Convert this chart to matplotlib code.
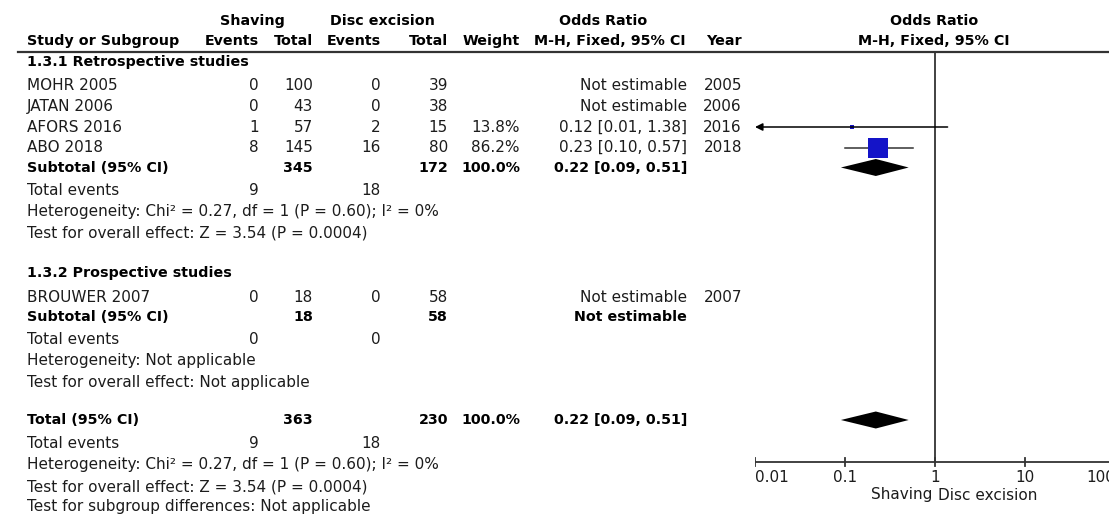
import numpy as np
import matplotlib.pyplot as plt
from matplotlib.patches import Polygon

# --- data ---
retro_names = ['MOHR 2005', 'JATAN 2006', 'AFORS 2016', 'ABO 2018']
retro_shav_ev = [0, 0, 1, 8]
retro_shav_n = [100, 43, 57, 145]
retro_disc_ev = [0, 0, 2, 16]
retro_disc_n = [39, 38, 15, 80]
retro_weight = [np.nan, np.nan, 13.8, 86.2]
retro_or = [np.nan, np.nan, 0.12, 0.23]
retro_lo = [np.nan, np.nan, 0.01, 0.10]
retro_hi = [np.nan, np.nan, 1.38, 0.57]
retro_year = [2005, 2006, 2016, 2018]

pro_names = ['BROUWER 2007']
pro_shav_ev = [0]
pro_shav_n = [18]
pro_disc_ev = [0]
pro_disc_n = [58]
pro_weight = [np.nan]
pro_or = [np.nan]
pro_lo = [np.nan]
pro_hi = [np.nan]
pro_year = [2007]

# subtotal / total: [shav_n, disc_n, shav_ev, disc_ev, weight, or, lo, hi]
retro_sub = [345, 172, 9, 18, 100.0, 0.22, 0.09, 0.51]
pro_sub = [18, 58, 0, 0, np.nan, np.nan, np.nan, np.nan]
overall = [363, 230, 9, 18, 100.0, 0.22, 0.09, 0.51]

retro_het = 'Heterogeneity: Chi² = 0.27, df = 1 (P = 0.60); I² = 0%'
retro_eff = 'Test for overall effect: Z = 3.54 (P = 0.0004)'
pro_het = 'Heterogeneity: Not applicable'
pro_eff = 'Test for overall effect: Not applicable'
tot_het = 'Heterogeneity: Chi² = 0.27, df = 1 (P = 0.60); I² = 0%'
tot_eff = 'Test for overall effect: Z = 3.54 (P = 0.0004)'
sub_diff = 'Test for subgroup differences: Not applicable'

axis_ticks = [0.01, 0.1, 1, 10, 100]
axis_labels = ['0.01', '0.1', '1', '10', '100']

# --- layout (pixels) ---
W, H = 1109, 523
FS = 11.0      # regular text
FSB = 10.3     # bold text
TXT = '#1c1c1c'
col_name = 27
col_sev, col_sn, col_dev, col_dn = 259, 313, 381, 448
col_w, col_or, col_yr = 520, 687, 742

fig = plt.figure(figsize=(W / 100, H / 100), dpi=100)
ax = fig.add_axes([0, 0, 1, 1])
ax.set_xlim(0, W)
ax.set_ylim(H, 0)
ax.axis('off')

fx = fig.add_axes([755 / W, 0, 360 / W, 1])
fx.set_xscale('log')
fx.set_xlim(0.01, 100)
fx.set_ylim(H, 0)
fx.axis('off')
fx.patch.set_alpha(0)


def t(x, y, s, ha='left', bold=False):
    ax.text(x, y, s, ha=ha, va='center', fontsize=FSB if bold else FS,
            color='black' if bold else TXT,
            fontweight='bold' if bold else 'normal')


def fmt_or(o, lo, hi):
    if np.isnan(o):
        return 'Not estimable'
    return f'{o:.2f} [{lo:.2f}, {hi:.2f}]'


def diamond(y, o, lo, hi):
    if np.isnan(o):
        return
    fx.add_patch(Polygon([(lo, y), (o, y - 8.5), (hi, y), (o, y + 8.5)],
                         closed=True, color='black', lw=0))


# --- headers ---
t(252, 21, 'Shaving', 'center', True)
t(382, 21, 'Disc excision', 'center', True)
t(603, 21, 'Odds Ratio', 'center', True)
t(934, 21, 'Odds Ratio', 'center', True)
t(col_name, 41, 'Study or Subgroup', bold=True)
t(col_sev, 41, 'Events', 'right', True)
t(col_sn, 41, 'Total', 'right', True)
t(col_dev, 41, 'Events', 'right', True)
t(col_dn, 41, 'Total', 'right', True)
t(col_w, 41, 'Weight', 'right', True)
t(610, 41, 'M-H, Fixed, 95% CI', 'center', True)
t(col_yr, 41, 'Year', 'right', True)
t(934, 41, 'M-H, Fixed, 95% CI', 'center', True)
ax.plot([18, W], [52, 52], color='#333333', lw=1.6)


def group(title, y0, names, sev, sn, dev, dn, wts, ors, los, his, years, sub, het, eff):
    t(col_name, y0, title, bold=True)
    ys = [y0 + 24 + 20.5 * i for i in range(len(names))]
    for i, y in enumerate(ys):
        t(col_name, y, names[i])
        t(col_sev, y, str(sev[i]), 'right')
        t(col_sn, y, str(sn[i]), 'right')
        t(col_dev, y, str(dev[i]), 'right')
        t(col_dn, y, str(dn[i]), 'right')
        if not np.isnan(wts[i]):
            t(col_w, y, f'{wts[i]:.1f}%', 'right')
        t(col_or, y, fmt_or(ors[i], los[i], his[i]), 'right')
        t(col_yr, y, str(years[i]), 'right')
        if not np.isnan(ors[i]):
            side = max(4.5, 23 * wts[i] / 100)
            lo = max(los[i], 0.01)
            if los[i] <= 0.01:
                # CI runs past the left end of the scale
                fx.annotate('', xy=(0.01, y), xytext=(his[i], y),
                            arrowprops=dict(arrowstyle='-|>', color='black', lw=1.1,
                                            mutation_scale=11, shrinkA=0, shrinkB=0))
            else:
                fx.plot([lo, his[i]], [y, y], color='#333333', lw=1.1)
            fx.plot([ors[i]], [y], marker='s', ms=side * 0.72, color='#1414c8', mew=0)
    ys_sub = ys[-1] + 20
    t(col_name, ys_sub, 'Subtotal (95% CI)', bold=True)
    t(col_sn, ys_sub, str(sub[0]), 'right', True)
    t(col_dn, ys_sub, str(sub[1]), 'right', True)
    if not np.isnan(sub[4]):
        t(col_w, ys_sub, f'{sub[4]:.1f}%', 'right', True)
    t(col_or, ys_sub, fmt_or(sub[5], sub[6], sub[7]), 'right', True)
    diamond(ys_sub, sub[5], sub[6], sub[7])
    ye = ys_sub + 23
    t(col_name, ye, 'Total events')
    t(col_sev, ye, str(sub[2]), 'right')
    t(col_dev, ye, str(sub[3]), 'right')
    t(col_name, ye + 21, het)
    t(col_name, ye + 42, eff)


group('1.3.1 Retrospective studies', 62, retro_names, retro_shav_ev, retro_shav_n,
      retro_disc_ev, retro_disc_n, retro_weight, retro_or, retro_lo, retro_hi,
      retro_year, retro_sub, retro_het, retro_eff)
group('1.3.2 Prospective studies', 273, pro_names, pro_shav_ev, pro_shav_n,
      pro_disc_ev, pro_disc_n, pro_weight, pro_or, pro_lo, pro_hi,
      pro_year, pro_sub, pro_het, pro_eff)

# --- overall ---
y_tot = 420
t(col_name, y_tot, 'Total (95% CI)', bold=True)
t(col_sn, y_tot, str(overall[0]), 'right', True)
t(col_dn, y_tot, str(overall[1]), 'right', True)
t(col_w, y_tot, f'{overall[4]:.1f}%', 'right', True)
t(col_or, y_tot, fmt_or(overall[5], overall[6], overall[7]), 'right', True)
diamond(y_tot, overall[5], overall[6], overall[7])
t(col_name, 443, 'Total events')
t(col_sev, 443, str(overall[2]), 'right')
t(col_dev, 443, str(overall[3]), 'right')
t(col_name, 465, tot_het)
t(col_name, 487, tot_eff)
t(col_name, 507, sub_diff)

# --- forest axis ---
y_ax = 462
fx.plot([1, 1], [52, y_ax], color='#333333', lw=1.3)
fx.plot([axis_ticks[0], axis_ticks[-1]], [y_ax, y_ax], color='#333333', lw=1.3)
for i, (tk, lb) in enumerate(zip(axis_ticks, axis_labels)):
    fx.plot([tk, tk], [y_ax - 4.5, y_ax + 3.5], color='#333333', lw=1.3)
    ha = 'left' if i == 0 else ('right' if i == len(axis_ticks) - 1 else 'center')
    fx.text(tk, 477, lb, ha=ha, va='center', fontsize=FS, color=TXT)
fx.text(0.93, 495, 'Shaving', ha='right', va='center', fontsize=FS, color=TXT)
fx.text(1.08, 495, 'Disc excision', ha='left', va='center', fontsize=FS, color=TXT)

fig.savefig('out.png', dpi=100)
